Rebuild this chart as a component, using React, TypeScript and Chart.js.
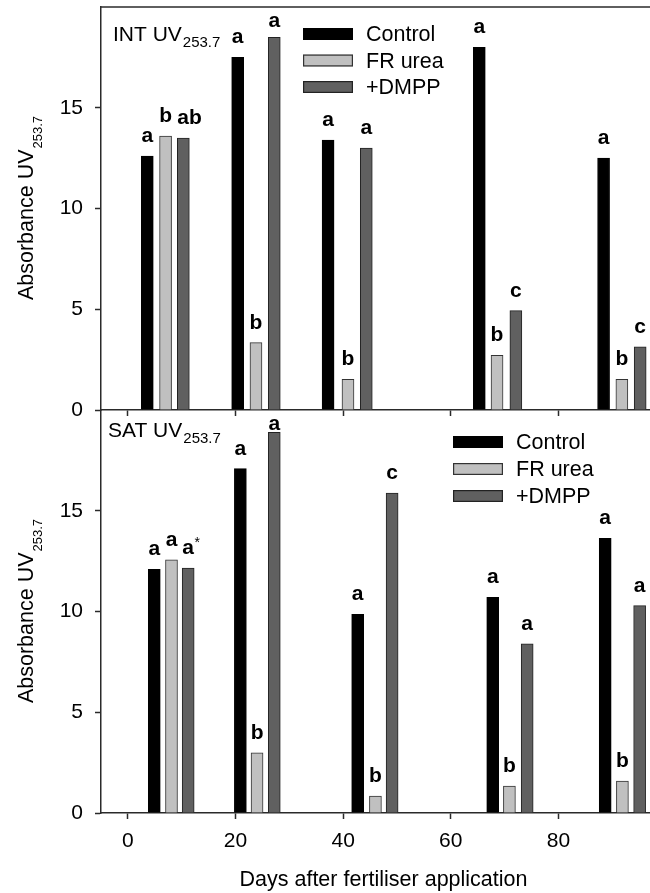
import React, { useEffect, useRef } from 'react';
import { Chart, registerables } from 'chart.js';

Chart.register(...registerables);

const FONT = '"Liberation Sans", Arial, Helvetica, sans-serif';
const AXIS = '#2a2a2a';

// ---- data ----
const seriesNames = ['Control', 'FR urea', '+DMPP'];
const seriesFill = ['#000000', '#c0c0c0', '#606060'];
const seriesBorder = ['#000000', '#333333', '#222222'];

const xTickValues = [0, 20, 40, 60, 80];
const yTickValues = [0, 5, 10, 15];

// INT panel (top)
const intControlDay = [3.6, 20.4, 37.2, 65.3, 88.4];
const intFrUreaDay = [7.0, 23.8, 40.9, 68.6, 91.8];
const intDmppDay = [10.3, 27.2, 44.3, 72.1, 95.2];
const intControl = [12.6, 17.5, 13.4, 18.0, 12.5];
const intFrUrea = [13.6, 3.34, 1.52, 2.71, 1.52];
const intDmpp = [13.5, 18.5, 13.0, 4.93, 3.13];
const intControlLetters = ['a', 'a', 'a', 'a', 'a'];
const intFrUreaLetters = ['b', 'b', 'b', 'b', 'b'];
const intDmppLetters = ['ab', 'a', 'a', 'c', 'c'];

// SAT panel (bottom)
const satControlDay = [4.9, 20.9, 42.7, 67.8, 88.7];
const satFrUreaDay = [8.1, 24.0, 46.0, 70.9, 91.9];
const satDmppDay = [11.2, 27.2, 49.1, 74.2, 95.1];
const satControl = [12.09, 17.09, 9.86, 10.7, 13.63];
const satFrUrea = [12.57, 2.99, 0.84, 1.34, 1.59];
const satDmpp = [12.16, 18.89, 15.88, 8.4, 10.29];
const satControlLetters = ['a', 'a', 'a', 'a', 'a'];
const satFrUreaLetters = ['a', 'b', 'b', 'b', 'b'];
const satDmppLetters = ['a*', 'a', 'c', 'a', 'a'];

const yTitleMain = 'Absorbance UV';
const yTitleSub = '253.7';
const xTitle = 'Days after fertiliser application';

type Panel = {
  titleMain: string;
  titleSub: string;
  days: number[][];
  values: number[][];
  letters: string[][];
  height: number;
  padTop: number;
  xAxisHeight: number;
  showXLabels: boolean;
  topBorder: boolean;
  legendDx: number;
  legendDy: number;
  legendGap: number;
  titleDx: number;
  titleDy: number;
};

function makeDecor(p: Panel) {
  return {
    id: 'panelDecor',
    afterDatasetsDraw(chart: any) {
      const ctx: CanvasRenderingContext2D = chart.ctx;
      const area = chart.chartArea;
      ctx.save();
      if (p.topBorder) {
        ctx.strokeStyle = AXIS;
        ctx.lineWidth = 1.5;
        ctx.beginPath();
        ctx.moveTo(area.left, area.top);
        ctx.lineTo(area.right, area.top);
        ctx.stroke();
      }
      // significance letters
      ctx.fillStyle = '#000';
      ctx.textBaseline = 'alphabetic';
      chart.data.datasets.forEach((_ds: any, i: number) => {
        const meta = chart.getDatasetMeta(i);
        meta.data.forEach((el: any, j: number) => {
          const txt = p.letters[i][j];
          if (!txt) return;
          const star = txt.endsWith('*');
          const core = star ? txt.slice(0, -1) : txt;
          let base = el.y - 14;
          base = Math.max(base, area.top + 20);
          ctx.font = `bold 21px ${FONT}`;
          const w = ctx.measureText(core).width;
          let left: number;
          if (core.length > 1) {
            left = el.x - el.width / 2;
          } else {
            left = el.x - w / 2;
          }
          ctx.textAlign = 'left';
          ctx.fillText(core, left, base);
          if (star) {
            ctx.font = `14px ${FONT}`;
            ctx.fillText('*', left + w + 0.5, base - 7);
          }
        });
      });
      // panel title with subscript
      ctx.textAlign = 'left';
      ctx.font = `21px ${FONT}`;
      const tx = area.left + p.titleDx;
      const ty = area.top + p.titleDy;
      ctx.fillText(p.titleMain, tx, ty);
      const tw = ctx.measureText(p.titleMain).width;
      ctx.font = `15px ${FONT}`;
      ctx.fillText(p.titleSub, tx + tw + 1, ty + 6);
      // legend
      const lx = area.left + p.legendDx;
      chart.data.datasets.forEach((ds: any, i: number) => {
        const by = area.top + p.legendDy + i * p.legendGap;
        ctx.fillStyle = ds.backgroundColor;
        ctx.fillRect(lx, by, 50, 12);
        ctx.strokeStyle = ds.borderColor;
        ctx.lineWidth = 1.2;
        ctx.strokeRect(lx + 0.6, by + 0.6, 48.8, 10.8);
        ctx.fillStyle = '#000';
        ctx.font = `21.5px ${FONT}`;
        ctx.textAlign = 'left';
        ctx.fillText(ds.label, lx + 63, by + 13);
      });
      // rotated y title with subscript
      const cy = (area.top + area.bottom) / 2;
      ctx.translate(33, cy);
      ctx.rotate(-Math.PI / 2);
      ctx.font = `21.5px ${FONT}`;
      const wm = ctx.measureText(yTitleMain).width;
      ctx.font = `13px ${FONT}`;
      const ws = ctx.measureText(yTitleSub).width;
      const start = -(wm + ws) / 2;
      ctx.font = `21.5px ${FONT}`;
      ctx.fillStyle = '#000';
      ctx.fillText(yTitleMain, start, 0);
      ctx.font = `13px ${FONT}`;
      ctx.fillText(yTitleSub, start + wm + 1, 8.5);
      ctx.restore();
    },
  };
}

function buildChart(canvas: HTMLCanvasElement, p: Panel) {
  const datasets = seriesNames.map((name, i) => ({
    label: name,
    data: p.days[i].map((d, k) => ({ x: d, y: p.values[i][k] })),
    backgroundColor: seriesFill[i],
    borderColor: seriesBorder[i],
    borderWidth: 1,
  }));
  return new Chart(canvas, {
    type: 'bar',
    data: { datasets },
    plugins: [makeDecor(p)],
    options: {
      responsive: false,
      maintainAspectRatio: false,
      animation: false,
      devicePixelRatio: 1,
      events: [],
      layout: { padding: { top: p.padTop, right: 14, left: 0, bottom: 0 } },
      datasets: { bar: { grouped: false, barThickness: 12 } } as any,
      plugins: { legend: { display: false }, tooltip: { enabled: false } },
      scales: {
        x: {
          type: 'linear',
          min: -5,
          max: 100,
          offset: false,
          afterBuildTicks: (s: any) => {
            s.ticks = xTickValues.map((v) => ({ value: v }));
          },
          afterFit: (s: any) => {
            s.height = p.xAxisHeight;
            s.paddingLeft = 0;
            s.paddingRight = 0;
            s.paddingTop = 0;
            s.paddingBottom = 0;
          },
          grid: {
            display: true,
            drawOnChartArea: false,
            drawTicks: true,
            tickLength: 6,
            tickColor: AXIS,
            tickWidth: 1.5,
            offset: false,
          },
          border: { display: true, color: AXIS, width: 1.5 },
          ticks: {
            display: true,
            color: p.showXLabels ? '#000' : 'rgba(0,0,0,0)',
            font: { family: FONT, size: 21 },
            padding: 10,
            maxRotation: 0,
            autoSkip: false,
          },
          title: {
            display: p.showXLabels,
            text: xTitle,
            color: '#000',
            font: { family: FONT, size: 21.5 },
            padding: { top: 0, bottom: 0 },
          },
        },
        y: {
          type: 'linear',
          min: 0,
          max: 20,
          afterBuildTicks: (s: any) => {
            s.ticks = yTickValues.map((v) => ({ value: v }));
          },
          afterFit: (s: any) => {
            s.width = 101;
            s.paddingTop = 0;
            s.paddingBottom = 0;
            s.paddingLeft = 0;
            s.paddingRight = 0;
          },
          grid: {
            display: true,
            drawOnChartArea: false,
            drawTicks: true,
            tickLength: 6,
            tickColor: AXIS,
            tickWidth: 1.5,
          },
          border: { display: true, color: AXIS, width: 1.5 },
          ticks: {
            color: '#000',
            font: { family: FONT, size: 21 },
            padding: 12,
          },
        },
      },
    } as any,
  });
}

const intPanel: Panel = {
  titleMain: 'INT UV',
  titleSub: '253.7',
  days: [intControlDay, intFrUreaDay, intDmppDay],
  values: [intControl, intFrUrea, intDmpp],
  letters: [intControlLetters, intFrUreaLetters, intDmppLetters],
  height: 430,
  padTop: 7,
  xAxisHeight: 20,
  showXLabels: false,
  topBorder: true,
  legendDx: 202,
  legendDy: 21,
  legendGap: 26.5,
  titleDx: 12,
  titleDy: 34,
};

const satPanel: Panel = {
  titleMain: 'SAT UV',
  titleSub: '253.7',
  days: [satControlDay, satFrUreaDay, satDmppDay],
  values: [satControl, satFrUrea, satDmpp],
  letters: [satControlLetters, satFrUreaLetters, satDmppLetters],
  height: 493,
  padTop: 10,
  xAxisHeight: 80,
  showXLabels: true,
  topBorder: false,
  legendDx: 352,
  legendDy: 26,
  legendGap: 27,
  titleDx: 7,
  titleDy: 27,
};

export default function App() {
  const topRef = useRef<HTMLCanvasElement | null>(null);
  const botRef = useRef<HTMLCanvasElement | null>(null);

  useEffect(() => {
    Chart.defaults.font.family = FONT;
    Chart.defaults.color = '#000';
    const c1 = buildChart(topRef.current!, intPanel);
    const c2 = buildChart(botRef.current!, satPanel);
    return () => {
      c1.destroy();
      c2.destroy();
    };
  }, []);

  return (
    <div
      style={{
        position: 'absolute',
        left: 0,
        top: 0,
        width: 650,
        height: 893,
        overflow: 'hidden',
        background: '#fff',
      }}
    >
      <canvas
        ref={topRef}
        width={680}
        height={430}
        style={{ position: 'absolute', left: 0, top: 0, width: 680, height: 430 }}
      />
      <canvas
        ref={botRef}
        width={680}
        height={493}
        style={{ position: 'absolute', left: 0, top: 400, width: 680, height: 493 }}
      />
    </div>
  );
}
